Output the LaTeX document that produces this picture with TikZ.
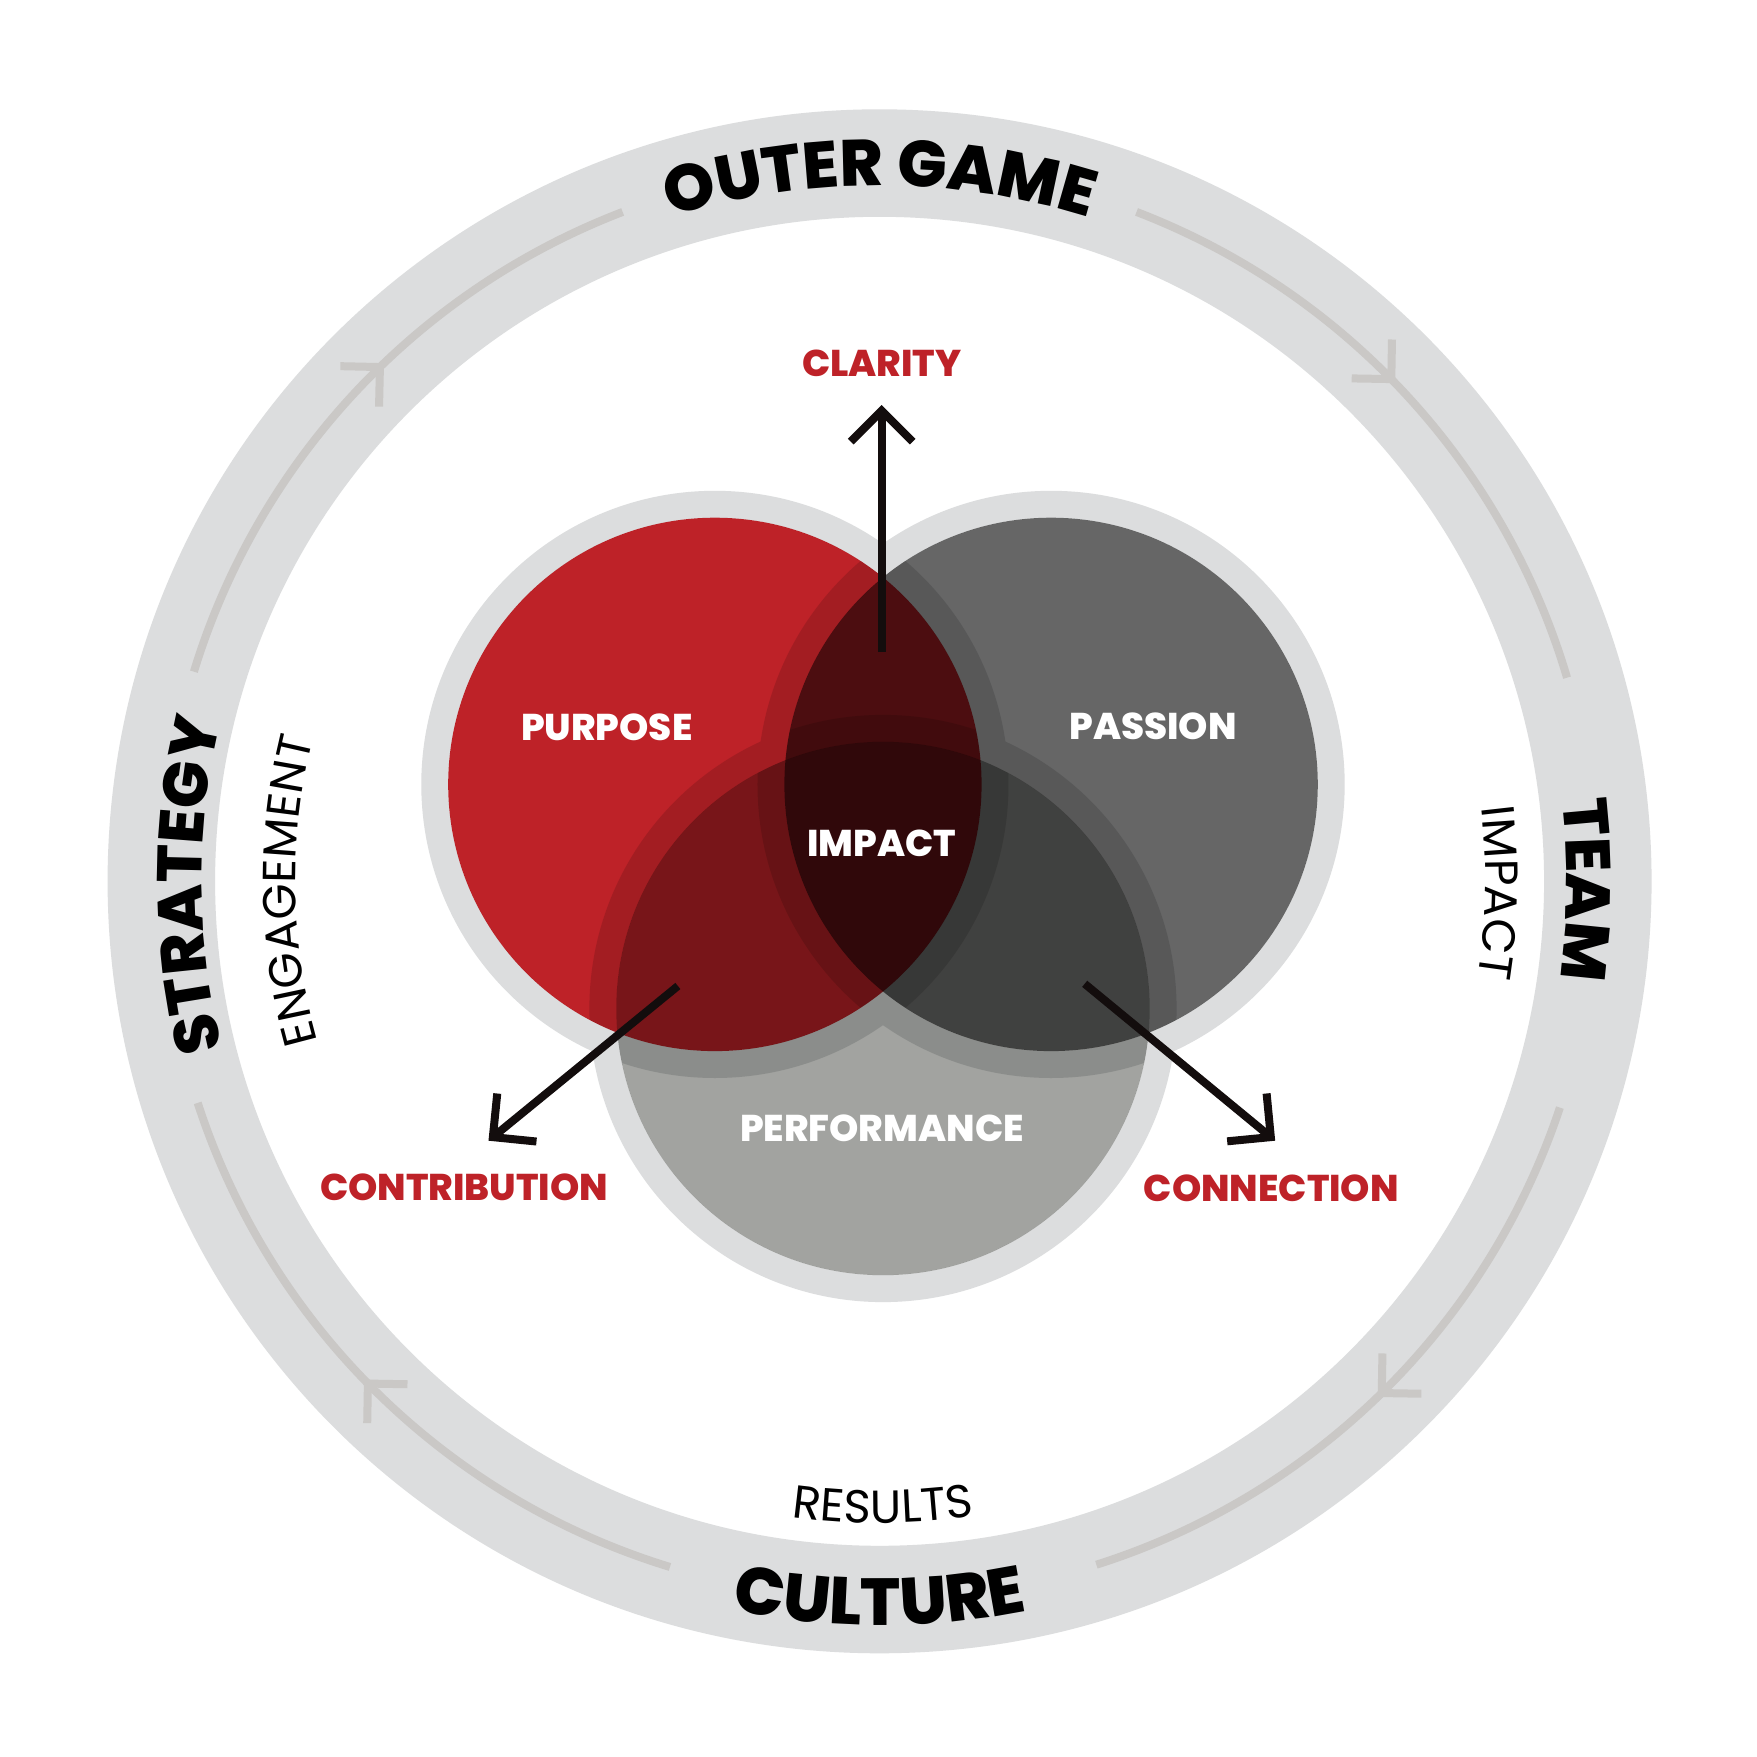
\documentclass[tikz,border=0pt]{standalone}
\usepackage{fontspec}
\setmainfont{Poppins}
\newfontfamily\heavyfamily{Poppins}[UprightFont=* ExtraBold]
\usetikzlibrary{arrows.meta,decorations.text,decorations.markings}

\definecolor{ringgrey}{HTML}{DCDDDE}
\definecolor{trackgrey}{HTML}{CAC8C6}
\definecolor{purposered}{HTML}{BE2228}
\definecolor{passiongrey}{HTML}{666666}
\definecolor{perfgrey}{HTML}{A2A3A0}
\definecolor{arrowblack}{HTML}{130D0D}

\newcommand{\bigfont}{\heavyfamily\fontsize{17.9}{17.9}\selectfont}
\newcommand{\topfont}{\heavyfamily\fontsize{18.6}{18.6}\selectfont}
\newcommand{\culturefont}{\heavyfamily\fontsize{18.9}{18.9}\selectfont}
\newcommand{\midfont}{\fontsize{13.2}{13.2}\selectfont}
\newcommand{\labelfont}{\heavyfamily\fontsize{10.6}{10.6}\selectfont}

\tikzstyle{halo} = [fill=ringgrey, even odd rule]
\tikzstyle{venn} = [blend mode=multiply]
\tikzstyle{track} = [draw=trackgrey, line width=0.08cm, postaction={decorate}]
\tikzstyle{arrow} = [draw=arrowblack, line width=0.08cm, -{Straight Barb[length=0.31cm,width=0.62cm]}]
\tikzstyle{whitelabel} = [text=white, font=\labelfont]
\tikzstyle{redlabel} = [text=purposered, font=\labelfont]
\tikzset{trackmark/.style={decoration={markings, mark=at position #1 with {\arrow[trackgrey, line width=0.08cm]{Straight Barb[length=0.28cm,width=0.56cm]}}}}}

\begin{document}
\begin{tikzpicture}
	\useasboundingbox[fill=white] (-8.796,-8.757) rectangle (8.774,8.813);

	% outer ring with its circulating track
	\fill[ringgrey, even odd rule] (0,0) circle (7.72) (0,0) circle (6.645);
	\draw[track, trackmark=0.563] (163:7.17) arc[start angle=163, end angle=111, radius=7.17];
	\draw[track, trackmark=0.476] (69:7.17) arc[start angle=69, end angle=16.5, radius=7.17];
	\draw[track, trackmark=0.511] (-18.4:7.17) arc[start angle=-18.4, end angle=-72.4, radius=7.17];
	\draw[track, trackmark=0.527] (-107:7.17) arc[start angle=-107, end angle=-162, radius=7.17];

	\path[decorate, decoration={text along path, text align=center, text={|\topfont|OUTER GAME}}]
		(125:6.96) arc[start angle=125, end angle=55, radius=6.96];
	\path[decorate, decoration={text along path, text align=center, text={|\culturefont|CULTURE}}]
		(235:7.44) arc[start angle=235, end angle=305, radius=7.44];
	\path[decorate, decoration={text along path, text align=center, text={|\bigfont|STRATEGY}}]
		(215.3:6.78) arc[start angle=215.3, end angle=145.3, radius=6.78];
	\path[decorate, decoration={text along path, text align=center, text={|\bigfont|TEAM}}]
		(34.3:6.87) arc[start angle=34.3, end angle=-35.7, radius=6.87];

	\path[decorate, decoration={text along path, text align=center, text={|\midfont|ENGAGEMENT}}]
		(215.9:5.84) arc[start angle=215.9, end angle=145.9, radius=5.84];
	\path[decorate, decoration={text along path, text align=center, text={|\midfont|IMPACT}}]
		(28.9:6.06) arc[start angle=28.9, end angle=-31.1, radius=6.06];
	\path[decorate, decoration={text along path, text align=center, text={|\midfont|RESULTS}}]
		(-114.7:6.42) arc[start angle=-114.7, end angle=-64.7, radius=6.42];

	% venn circles
	\coordinate (purposec) at (-1.647,0.969);
	\coordinate (passionc) at (1.715,0.969);
	\coordinate (performc) at (0.034,-1.272);
	\foreach \c in {purposec,passionc,performc}
		\fill[halo] (\c) circle (2.936) (\c) circle (2.667);
	\fill[venn, fill=purposered] (purposec) circle (2.667);
	\fill[venn, fill=passiongrey] (passionc) circle (2.667);
	\fill[venn, fill=perfgrey] (performc) circle (2.667);

	\node (purpose) [whitelabel] at (-2.728,1.541) {PURPOSE};
	\node (passion) [whitelabel] at (2.734,1.553) {PASSION};
	\node (impact) [whitelabel] at (0.023,0.375) {IMPACT};
	\node (performance) [whitelabel] at (0.023,-2.471) {PERFORMANCE};

	\node (clarity) [redlabel] at (0.022,5.183) {CLARITY};
	\node (contribution) [redlabel] at (-4.154,-3.063) {CONTRIBUTION};
	\node (connection) [redlabel] at (3.917,-3.065) {CONNECTION};

	\coordinate (clarityfoot) at (0.021,2.293);
	\coordinate (claritytip) at (0.021,4.763);
	\coordinate (contribfoot) at (-2.017,-1.047);
	\coordinate (contribtip) at (-3.911,-2.594);
	\coordinate (connectfoot) at (2.051,-1.025);
	\coordinate (connecttip) at (3.956,-2.594);

	\draw [arrow] (clarityfoot) -- (claritytip);
	\draw [arrow] (contribfoot) -- (contribtip);
	\draw [arrow] (connectfoot) -- (connecttip);
\end{tikzpicture}
\end{document}
